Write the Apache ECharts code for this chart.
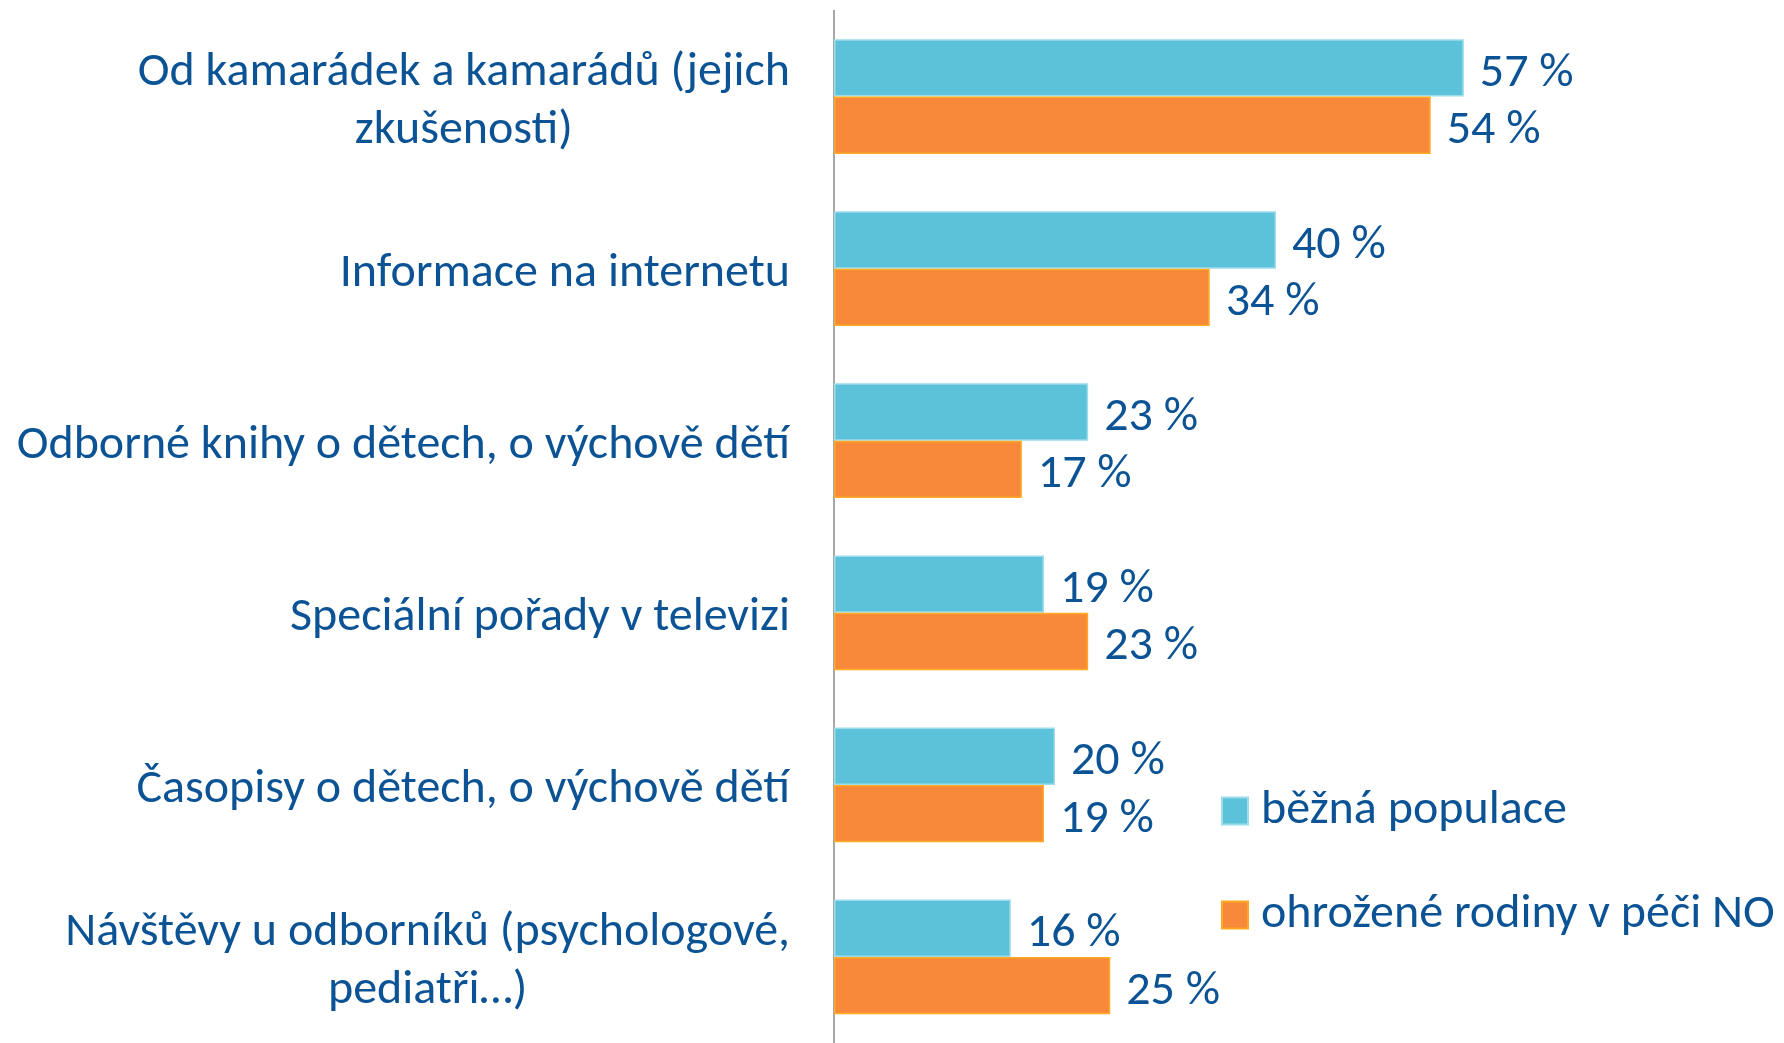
<!DOCTYPE html>
<html>
<head>
<meta charset="utf-8">
<style>
  html, body { margin: 0; padding: 0; background: #ffffff; }
  #chart { width: 1784px; height: 1043px; }
</style>
<script src="https://cdn.jsdelivr.net/npm/echarts@6/dist/echarts.min.js"></script>
</head>
<body>
<div id="chart"></div>
<script>
// Zdroje informací o výchově dětí (v %)
const categories = [
  ['Od kamarádek a kamarádů (jejich', 'zkušenosti)'],
  ['Informace na internetu'],
  ['Odborné knihy o dětech, o výchově dětí'],
  ['Speciální pořady v televizi'],
  ['Časopisy o dětech, o výchově dětí'],
  ['Návštěvy u odborníků (psychologové,', 'pediatři…)']
];
const seriesNames = ['běžná populace', 'ohrožené rodiny v péči NO'];
const bezna = [57, 40, 23, 19, 20, 16];
const ohrozene = [54, 34, 17, 23, 19, 25];

const FONT = "Carlito, Calibri, Lato, 'Noto Sans', sans-serif";
const TEXT = '#0B5394';
const FS = 48;

const chart = echarts.init(document.getElementById('chart'), null, { renderer: 'canvas' });

const valueLabel = {
  show: true,
  position: 'right',
  distance: 16,
  offset: [0, 6],
  formatter: p => p.value + '\u00a0%',
  color: TEXT,
  fontFamily: FONT,
  fontSize: FS
};

chart.setOption({
  animation: false,
  backgroundColor: '#ffffff',
  grid: { left: 834, top: 10.5, width: 663, height: 1040, containLabel: false },
  xAxis: {
    type: 'value',
    min: 0,
    max: 60,
    show: false
  },
  yAxis: {
    type: 'category',
    inverse: true,
    data: categories.map(c => c.join('\n')),
    axisLine: { show: true, lineStyle: { color: '#8a8a8a', width: 1.5 } },
    axisTick: { show: false },
    splitLine: { show: false },
    axisLabel: {
      margin: 44,
      align: 'right',
      formatter: v => v.split('\n').map(s => '{c|' + s + '}').join('\n'),
      rich: {
        c: {
          align: 'center',
          verticalAlign: 'bottom',
          color: TEXT,
          fontFamily: FONT,
          fontSize: FS,
          lineHeight: 58
        }
      }
    }
  },
  legend: {
    orient: 'vertical',
    left: 1221,
    top: 787,
    padding: 0,
    icon: 'rect',
    itemWidth: 26,
    itemHeight: 27,
    itemGap: 56,
    textStyle: {
      color: TEXT,
      fontFamily: FONT,
      fontSize: FS,
      lineHeight: 27,
      padding: [0, 0, 0, 8]
    },
    data: seriesNames
  },
  series: [
    {
      name: seriesNames[0],
      type: 'bar',
      data: bezna,
      barGap: '0%',
      barCategoryGap: '33.3%',
      itemStyle: { color: '#5BC2D9', borderColor: '#9CDCEB', borderWidth: 1.5 },
      label: valueLabel
    },
    {
      name: seriesNames[1],
      type: 'bar',
      data: ohrozene,
      barGap: '0%',
      barCategoryGap: '33.3%',
      itemStyle: { color: '#F9893A', borderColor: '#FFAA22', borderWidth: 1.5 },
      label: valueLabel
    }
  ]
});
</script>
</body>
</html>
